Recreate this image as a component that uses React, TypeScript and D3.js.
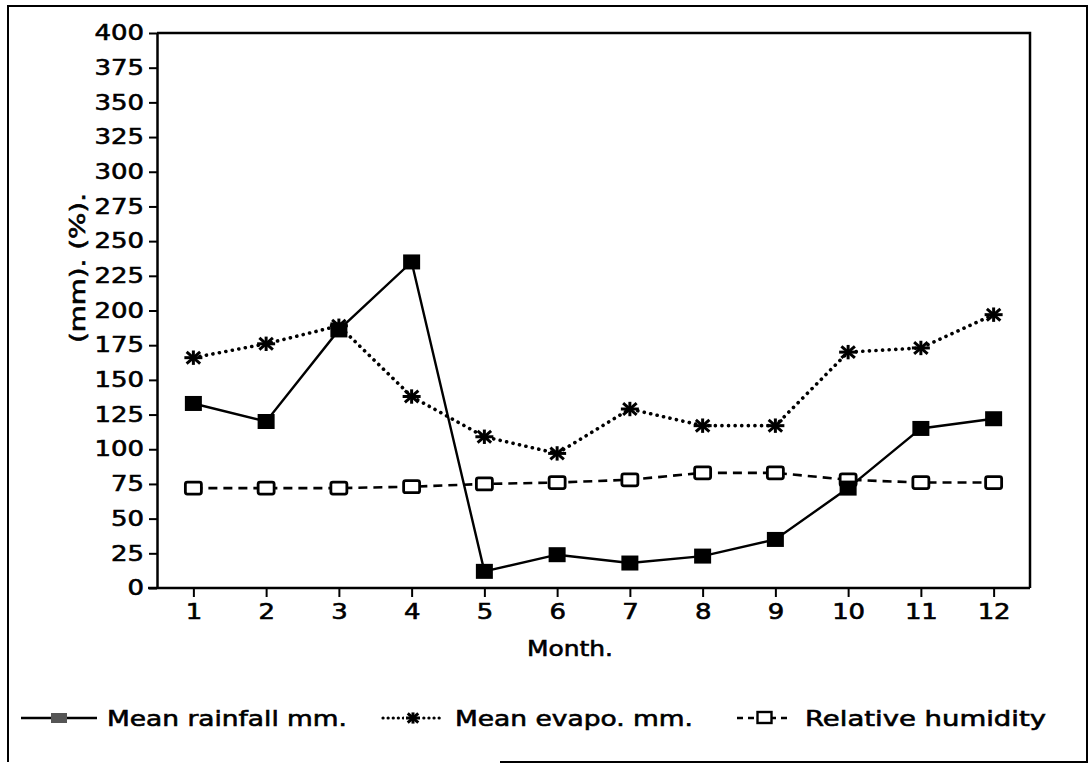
import * as d3 from 'd3';
import { useEffect, useRef } from 'react';

const months = [1, 2, 3, 4, 5, 6, 7, 8, 9, 10, 11, 12];
const rainfall = [133, 120, 186, 235, 12, 24, 18, 23, 35, 72, 115, 122];
const evapo = [166, 176, 189, 138, 109, 97, 129, 117, 117, 170, 173, 197];
const humidity = [72, 72, 72, 73, 75, 76, 78, 83, 83, 78, 76, 76];
const yTicks = [0, 25, 50, 75, 100, 125, 150, 175, 200, 225, 250, 275, 300, 325, 350, 375, 400];

const seriesNames = ['Mean rainfall mm.', 'Mean evapo. mm.', 'Relative humidity'];

const FONT = '"DejaVu Sans", sans-serif';
const DIGIT_W = 16.5;

// wide, heavy lettering like the scanned original
const styleText = (sel: any, size: number) =>
  sel
    .attr('font-size', `${size}px`)
    .attr('font-family', FONT)
    .attr('fill', '#000')
    .attr('stroke', '#000')
    .attr('stroke-width', 0.6)
    .attr('lengthAdjust', 'spacingAndGlyphs');

const App = () => {
  const svgRef = useRef<SVGSVGElement | null>(null);

  useEffect(() => {
    if (!svgRef.current) return;
    const svg = d3.select(svgRef.current);
    svg.selectAll('*').remove();

    const plot = { left: 157, right: 1030, top: 33, bottom: 588 };

    // outer frame
    svg
      .append('path')
      .attr('d', `M500,762 H1087 V6 H8 V762`)
      .attr('fill', 'none')
      .attr('stroke', '#000')
      .attr('stroke-width', 2);

    const x = d3
      .scalePoint<number>()
      .domain(months)
      .range([plot.left, plot.right])
      .padding(0.5);

    const y = d3.scaleLinear().domain([0, 400]).range([plot.bottom, plot.top]);

    // plot box right + top
    svg
      .append('path')
      .attr('d', `M${plot.left},${plot.top} H${plot.right} V${plot.bottom}`)
      .attr('fill', 'none')
      .attr('stroke', '#000')
      .attr('stroke-width', 2.5);

    const yAxis = d3
      .axisLeft(y)
      .tickValues(yTicks)
      .tickSize(8)
      .tickSizeOuter(0)
      .tickPadding(5)
      .tickFormat((d) => String(d));

    const yg = svg
      .append('g')
      .attr('transform', `translate(${plot.left},0)`)
      .call(yAxis);
    yg.select('.domain').attr('stroke-width', 2.5);
    yg.selectAll('.tick line').attr('stroke-width', 2);
    styleText(yg.selectAll('text'), 21).attr('textLength', (d: number) => String(d).length * DIGIT_W);

    const xAxis = d3
      .axisBottom(x)
      .tickSize(9)
      .tickSizeOuter(0)
      .tickPadding(7)
      .tickFormat((d) => String(d));

    const xg = svg
      .append('g')
      .attr('transform', `translate(0,${plot.bottom})`)
      .call(xAxis);
    xg.select('.domain')
      .attr('d', `M${plot.left - 9},0 H${plot.right}`)
      .attr('stroke-width', 2.5);
    xg.selectAll('.tick line').attr('stroke-width', 2);
    styleText(xg.selectAll('text'), 21).attr('textLength', (d: number) => String(d).length * DIGIT_W);

    // axis titles
    styleText(
      svg
        .append('text')
        .attr('x', 570)
        .attr('y', 656)
        .attr('text-anchor', 'middle')
        .text('Month.'),
      21
    ).attr('textLength', 86);

    styleText(
      svg
        .append('text')
        .attr('transform', `translate(85,268) rotate(-90)`)
        .attr('text-anchor', 'middle')
        .text('(mm). (%).'),
      21
    ).attr('textLength', 150);

    const line = d3
      .line<number>()
      .x((_, i) => x(months[i]) as number)
      .y((d) => y(d));

    const drawStar = (g: any, cx: number, cy: number, r: number) => {
      const s = g.append('g').attr('transform', `translate(${cx},${cy})`);
      const arms = [
        [-r, 0, r, 0],
        [0, -r * 0.8, 0, r * 0.8],
        [-r * 0.75, -r * 0.65, r * 0.75, r * 0.65],
        [-r * 0.75, r * 0.65, r * 0.75, -r * 0.65],
      ];
      arms.forEach((a) =>
        s
          .append('line')
          .attr('x1', a[0])
          .attr('y1', a[1])
          .attr('x2', a[2])
          .attr('y2', a[3])
          .attr('stroke', '#000')
          .attr('stroke-width', 3)
      );
    };

    const root = svg.append('g');

    // humidity (dashed, open squares)
    root
      .append('path')
      .datum(humidity)
      .attr('d', line)
      .attr('fill', 'none')
      .attr('stroke', '#000')
      .attr('stroke-width', 2.6)
      .attr('stroke-dasharray', '9 6');

    // evapo (dotted, stars)
    root
      .append('path')
      .datum(evapo)
      .attr('d', line)
      .attr('fill', 'none')
      .attr('stroke', '#000')
      .attr('stroke-width', 3.6)
      .attr('stroke-linecap', 'round')
      .attr('stroke-dasharray', '0.1 6.5');

    // rainfall (solid, filled squares)
    root
      .append('path')
      .datum(rainfall)
      .attr('d', line)
      .attr('fill', 'none')
      .attr('stroke', '#000')
      .attr('stroke-width', 2.4);

    humidity.forEach((v, i) => {
      root
        .append('rect')
        .attr('x', (x(months[i]) as number) - 8)
        .attr('y', y(v) - 6)
        .attr('width', 16)
        .attr('height', 12)
        .attr('rx', 2)
        .attr('fill', '#fff')
        .attr('stroke', '#000')
        .attr('stroke-width', 2.8);
    });

    evapo.forEach((v, i) => drawStar(root, x(months[i]) as number, y(v), 9));

    rainfall.forEach((v, i) => {
      root
        .append('rect')
        .attr('x', (x(months[i]) as number) - 8.5)
        .attr('y', y(v) - 7.5)
        .attr('width', 17)
        .attr('height', 15)
        .attr('fill', '#000');
    });

    // legend
    const legY = 718;
    const legend = [
      { x0: 21, x1: 97, tx: 107, tw: 240 },
      { x0: 383, x1: 443, tx: 455, tw: 238 },
      { x0: 737, x1: 792, tx: 805, tw: 241 },
    ];
    legend.forEach((l, i) => {
      const lg = svg.append('g');
      const p = lg
        .append('line')
        .attr('x1', l.x0)
        .attr('x2', l.x1)
        .attr('y1', legY)
        .attr('y2', legY)
        .attr('stroke', '#000')
        .attr('stroke-width', 2.5);
      const cx = (l.x0 + l.x1) / 2;
      if (i === 0) {
        lg.append('rect')
          .attr('x', cx - 8)
          .attr('y', legY - 5)
          .attr('width', 16)
          .attr('height', 10)
          .attr('fill', '#555');
      } else if (i === 1) {
        p.attr('stroke-dasharray', '0.1 5').attr('stroke-linecap', 'round').attr('stroke-width', 3.2);
        lg.append('rect')
          .attr('x', cx - 9)
          .attr('y', legY - 8)
          .attr('width', 18)
          .attr('height', 16)
          .attr('fill', '#fff');
        drawStar(lg, cx, legY, 7);
      } else {
        p.attr('stroke-dasharray', '6 5');
        lg.append('rect')
          .attr('x', cx - 7)
          .attr('y', legY - 6)
          .attr('width', 14)
          .attr('height', 11)
          .attr('fill', '#fff')
          .attr('stroke', '#000')
          .attr('stroke-width', 2.4);
      }
      styleText(
        lg.append('text').attr('x', l.tx).attr('y', legY + 8).text(seriesNames[i]),
        21
      ).attr('textLength', l.tw);
    });
  }, []);

  return (
    <svg
      ref={svgRef}
      width={1090}
      height={764}
      style={{ position: 'absolute', left: 0, top: 0, background: '#fff' }}
    ></svg>
  );
};

export default App;
